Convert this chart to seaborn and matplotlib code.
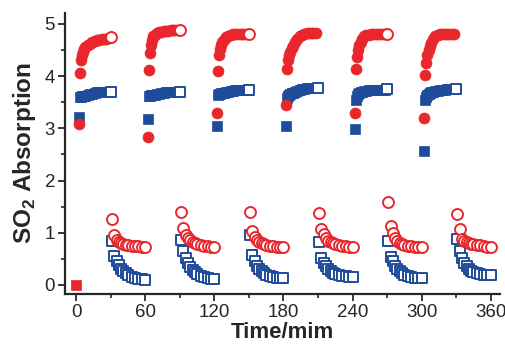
import numpy as np
import pandas as pd
import seaborn as sns
import matplotlib
import matplotlib.pyplot as plt
from matplotlib.ticker import MultipleLocator

matplotlib.use('Agg')

# Zyklus-Startzeiten (min)
cycle_starts = [0, 60, 120, 180, 240, 300]

# Messzeitpunkte relativ zum Zyklusstart (min)
abs_t = [2, 3, 4, 5, 6, 7, 8, 10, 12, 14, 16, 18, 20, 22, 24, 26, 28]
abs_end_t = 30
des_t = [31, 33, 35, 37, 39, 41, 43, 45, 48, 51, 54, 57, 60]

# Absorption, rot (gefuellte Kreise)
red_abs = [
    [3.09, 4.06, 4.30, 4.40, 4.46, 4.51, 4.55, 4.59, 4.62, 4.65, 4.67, 4.69, 4.70, 4.71, 4.72, 4.72, 4.73],
    [2.83, 4.12, 4.45, 4.60, 4.70, 4.76, 4.79, 4.82, 4.84, 4.85, 4.86, 4.87, 4.87, 4.88, 4.88, 4.89, 4.89],
    [3.30, 4.09, 4.40, 4.52, 4.60, 4.66, 4.70, 4.74, 4.77, 4.79, 4.80, 4.81, 4.81, 4.81, 4.81, 4.80, 4.80],
    [3.45, 4.13, 4.30, 4.40, 4.47, 4.53, 4.58, 4.65, 4.71, 4.76, 4.79, 4.81, 4.82, 4.82, 4.82, 4.82, 4.82],
    [3.30, 4.13, 4.36, 4.50, 4.60, 4.66, 4.71, 4.76, 4.78, 4.79, 4.80, 4.80, 4.80, 4.80, 4.80, 4.80, 4.80],
    [3.19, 4.02, 4.25, 4.40, 4.50, 4.58, 4.64, 4.72, 4.77, 4.79, 4.80, 4.80, 4.80, 4.80, 4.80, 4.80, 4.80],
]
red_abs_end = [4.74, 4.89, 4.80, np.nan, 4.80, np.nan]

# Absorption, blau (gefuellte Quadrate)
blue_abs = [
    [3.22, 3.60, 3.60, 3.61, 3.61, 3.62, 3.62, 3.63, 3.65, 3.66, 3.68, 3.69, 3.69, 3.70, 3.70, 3.70, 3.70],
    [3.18, 3.62, 3.62, 3.63, 3.63, 3.64, 3.64, 3.65, 3.66, 3.67, 3.68, 3.69, 3.69, 3.70, 3.70, 3.70, 3.70],
    [3.05, 3.64, 3.65, 3.66, 3.67, 3.68, 3.68, 3.69, 3.70, 3.71, 3.72, 3.73, 3.73, 3.74, 3.74, 3.74, 3.74],
    [3.05, 3.58, 3.61, 3.64, 3.66, 3.67, 3.68, 3.70, 3.71, 3.73, 3.75, 3.76, 3.77, 3.77, 3.77, 3.77, 3.77],
    [2.98, 3.54, 3.62, 3.66, 3.68, 3.69, 3.70, 3.71, 3.72, 3.73, 3.73, 3.74, 3.74, 3.74, 3.74, 3.74, 3.74],
    [2.57, 3.54, 3.60, 3.64, 3.66, 3.68, 3.69, 3.70, 3.71, 3.72, 3.73, 3.74, 3.74, 3.75, 3.75, 3.75, 3.75],
]
blue_abs_end = [3.70, 3.70, 3.74, 3.77, 3.75, 3.76]

# Desorption (offene Symbole)
red_des = [
    [1.26, 0.96, 0.87, 0.83, 0.80, 0.79, 0.77, 0.76, 0.75, 0.74, 0.74, 0.73, 0.73],
    [1.40, 1.10, 0.96, 0.90, 0.86, 0.83, 0.80, 0.78, 0.76, 0.75, 0.74, 0.73, 0.72],
    [1.39, 1.04, 0.92, 0.86, 0.83, 0.80, 0.78, 0.77, 0.75, 0.74, 0.73, 0.73, 0.72],
    [1.37, 1.07, 0.98, 0.90, 0.85, 0.82, 0.80, 0.78, 0.76, 0.75, 0.74, 0.73, 0.72],
    [1.58, 1.12, 1.00, 0.90, 0.84, 0.80, 0.78, 0.76, 0.75, 0.74, 0.73, 0.72, 0.72],
    [1.36, 1.07, 0.89, 0.84, 0.82, 0.80, 0.79, 0.78, 0.77, 0.76, 0.75, 0.73, 0.72],
]
blue_des = [
    [0.85, 0.56, 0.46, 0.38, 0.31, 0.26, 0.22, 0.19, 0.16, 0.14, 0.12, 0.11, 0.10],
    [0.86, 0.66, 0.51, 0.42, 0.35, 0.29, 0.25, 0.21, 0.17, 0.15, 0.13, 0.12, 0.11],
    [0.96, 0.57, 0.45, 0.37, 0.31, 0.26, 0.22, 0.19, 0.17, 0.15, 0.14, 0.13, 0.13],
    [0.83, 0.51, 0.43, 0.36, 0.30, 0.26, 0.23, 0.21, 0.19, 0.18, 0.17, 0.16, 0.16],
    [0.85, 0.53, 0.45, 0.37, 0.31, 0.26, 0.22, 0.19, 0.17, 0.15, 0.14, 0.13, 0.13],
    [0.88, 0.65, 0.52, 0.43, 0.36, 0.31, 0.27, 0.24, 0.22, 0.21, 0.20, 0.19, 0.19],
]

# Startpunkt
start_t = [0]
start_val = [0.0]

RED = '#e8262b'
BLUE = '#1e4c9a'


def to_frame(times, values):
    rows = []
    for start, vals in zip(cycle_starts, values):
        for t, v in zip(times, vals):
            rows.append((start + t, v))
    return pd.DataFrame(rows, columns=['time', 'value']).dropna()


df_red_abs = to_frame(abs_t, red_abs)
df_blue_abs = to_frame(abs_t, blue_abs)
df_red_end = to_frame([abs_end_t], [[v] for v in red_abs_end])
df_blue_end = to_frame([abs_end_t], [[v] for v in blue_abs_end])
df_red_des = to_frame(des_t, red_des)
df_blue_des = to_frame(des_t, blue_des)

sns.set_style('ticks')
plt.rcParams['font.family'] = ['Liberation Sans', 'DejaVu Sans']
plt.rcParams['mathtext.fontset'] = 'custom'
plt.rcParams['mathtext.bf'] = 'Liberation Sans:bold'
plt.rcParams['mathtext.rm'] = 'Liberation Sans'

fig = plt.figure(figsize=(5.06, 3.49), dpi=100)
ax = fig.add_axes([0.128, 0.158, 0.86, 0.805])

sq = 48
ci = 62
sns.scatterplot(data=df_blue_abs, x='time', y='value', marker='s', s=sq,
                color=BLUE, edgecolor=BLUE, linewidth=0.5, ax=ax)
sns.scatterplot(data=df_blue_end, x='time', y='value', marker='s', s=sq,
                facecolor='white', edgecolor=BLUE, linewidth=1.4, ax=ax)
sns.scatterplot(data=df_blue_des, x='time', y='value', marker='s', s=sq,
                facecolor='white', edgecolor=BLUE, linewidth=1.4, ax=ax)
sns.scatterplot(data=df_red_abs, x='time', y='value', marker='o', s=ci,
                color=RED, edgecolor=RED, linewidth=0.5, ax=ax)
sns.scatterplot(data=df_red_end, x='time', y='value', marker='o', s=ci,
                facecolor='white', edgecolor=RED, linewidth=1.4, ax=ax)
sns.scatterplot(data=df_red_des, x='time', y='value', marker='o', s=ci,
                facecolor='white', edgecolor=RED, linewidth=1.4, ax=ax)
sns.scatterplot(x=start_t, y=start_val, marker='s', s=sq,
                color=RED, edgecolor=RED, linewidth=0.5, ax=ax)

ax.set_xlim(-10, 368)
ax.set_ylim(-0.17, 5.21)
ax.xaxis.set_major_locator(MultipleLocator(60))
ax.xaxis.set_minor_locator(MultipleLocator(30))
ax.yaxis.set_major_locator(MultipleLocator(1))
ax.yaxis.set_minor_locator(MultipleLocator(0.5))
ax.tick_params(which='major', length=5, width=1.3, labelsize=13.5, pad=2)
ax.tick_params(which='minor', length=3, width=1.2)

for side in ['top', 'right']:
    ax.spines[side].set_visible(False)
for side in ['left', 'bottom']:
    ax.spines[side].set_linewidth(1.6)

ax.set_xlabel('Time/mim', fontsize=16, fontweight='bold', labelpad=1)
ax.set_ylabel(r'SO$_\mathbf{2}$ Absorption', fontsize=17.5, fontweight='bold', labelpad=5)

plt.savefig('out.png', dpi=100)
